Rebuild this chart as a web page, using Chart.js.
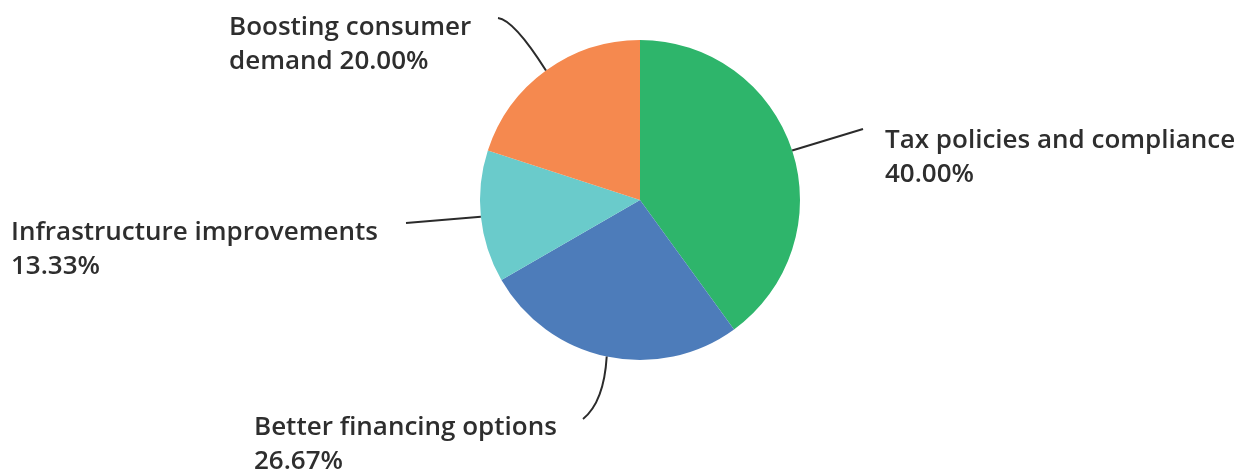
<!DOCTYPE html>
<html>
<head>
<meta charset="utf-8">
<style>
  html, body { margin: 0; padding: 0; background: #fff; }
  #wrap { width: 1246px; height: 470px; }
</style>
<script src="https://cdn.jsdelivr.net/npm/chart.js@4"></script>
</head>
<body>
<div id="wrap"><canvas id="pieChart" width="1246" height="470"></canvas></div>
<script>
const categories = [
  'Tax policies and compliance',
  'Better financing options',
  'Infrastructure improvements',
  'Boosting consumer demand'
];
const shares = [40.00, 26.67, 13.33, 20.00];
const sliceColors = ['#2eb56b', '#4d7cba', '#6acbcb', '#f5894f'];

// label text lines and where each label block sits; the leader runs from the
// slice edge to `end`, bending through `ctrl`
const labelLayout = [
  { lines: ['Tax policies and compliance', '{v}'], x: 885, y: 148, end: [863, 129] },
  { lines: ['Better financing options', '{v}'], x: 254, y: 435, end: [583, 419], ctrl: [604, 402] },
  { lines: ['Infrastructure improvements', '{v}'], x: 11, y: 240, end: [406, 223] },
  { lines: ['Boosting consumer', 'demand {v}'], x: 229, y: 35, end: [498, 18], ctrl: [514, 20] }
];

const FONT = '600 26px "Open Sans"';
const LINE_GAP = 34;

const calloutPlugin = {
  id: 'callouts',
  afterDatasetsDraw(chart) {
    const ctx = chart.ctx;
    const meta = chart.getDatasetMeta(0);
    ctx.save();
    meta.data.forEach((arc, i) => {
      const p = arc.getProps(['x', 'y', 'startAngle', 'endAngle', 'outerRadius'], true);
      const mid = (p.startAngle + p.endAngle) / 2;
      const sx = p.x + Math.cos(mid) * p.outerRadius;
      const sy = p.y + Math.sin(mid) * p.outerRadius;
      const lay = labelLayout[i];

      ctx.strokeStyle = '#2b2b2b';
      ctx.lineWidth = 2;
      ctx.beginPath();
      ctx.moveTo(sx, sy);
      if (lay.ctrl) {
        ctx.quadraticCurveTo(lay.ctrl[0], lay.ctrl[1], lay.end[0], lay.end[1]);
      } else {
        ctx.lineTo(lay.end[0], lay.end[1]);
      }
      ctx.stroke();

      const val = shares[i].toFixed(2) + '%';
      ctx.fillStyle = '#2e2e2e';
      ctx.font = FONT;
      ctx.textAlign = 'left';
      ctx.textBaseline = 'alphabetic';
      lay.lines.forEach((ln, k) => {
        ctx.fillText(ln.replace('{v}', val), lay.x, lay.y + k * LINE_GAP);
      });
    });
    ctx.restore();
  }
};

new Chart(document.getElementById('pieChart'), {
  type: 'pie',
  data: {
    labels: categories,
    datasets: [{
      data: shares,
      backgroundColor: sliceColors,
      borderWidth: 0
    }]
  },
  options: {
    responsive: false,
    animation: false,
    layout: { padding: { top: 40, bottom: 110, left: 480, right: 446 } },
    plugins: {
      legend: { display: false },
      tooltip: { enabled: false }
    }
  },
  plugins: [calloutPlugin]
});
</script>
</body>
</html>
